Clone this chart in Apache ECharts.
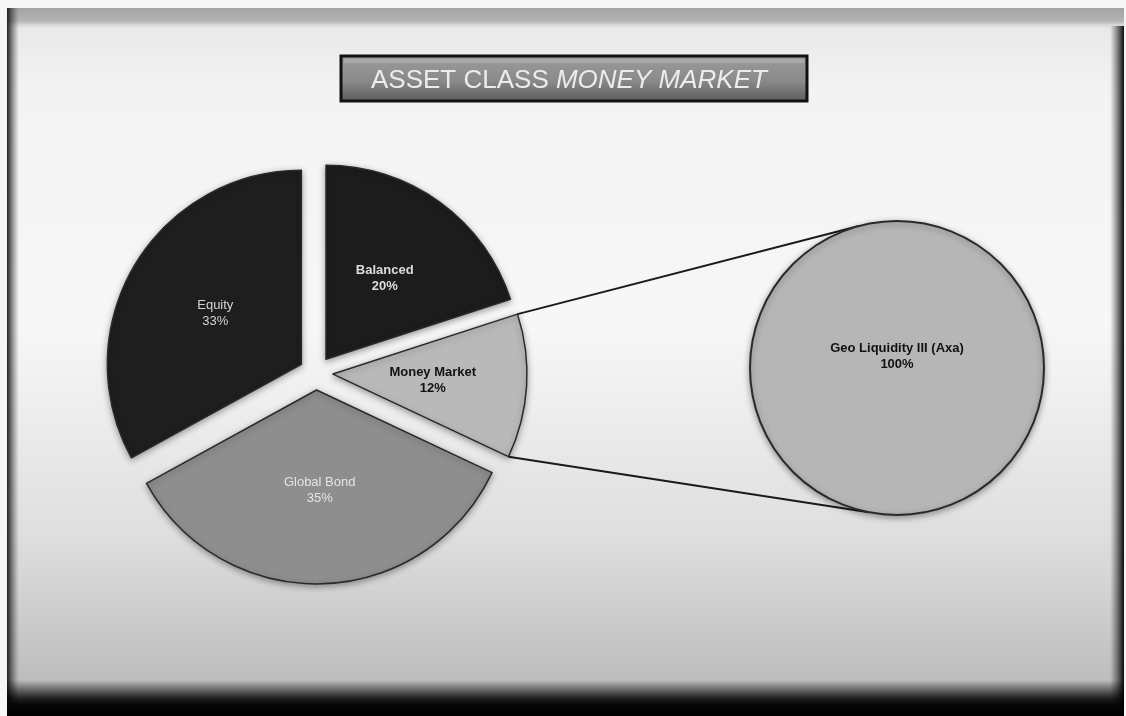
<!DOCTYPE html>
<html>
<head>
<meta charset="utf-8">
<script src="https://cdn.jsdelivr.net/npm/echarts@6/dist/echarts.min.js"></script>
<style>
html,body{margin:0;padding:0;background:#f6f6f6;}
#chart{width:1126px;height:716px;}
</style>
</head>
<body>
<div id="chart"></div>
<script>
// ---- data ----
const titleMain = 'ASSET CLASS ';
const titleItalic = 'MONEY MARKET';
const categories = ['Balanced', 'Money Market', 'Global Bond', 'Equity'];
const shares = [20, 12, 35, 33];
const sliceColors = ['#1c1c1c', '#b9b9b9', '#8e8e8e', '#1e1e1e'];
const labelColors = ['#dcdcdc', '#111111', '#e4e4e4', '#d4d4d4'];
const labelWeights = ['bold', 'bold', 'normal', 'normal'];
const detailCategories = ['Geo Liquidity III (Axa)'];
const detailShares = [100];
const explodedIndex = 1; // Money Market is broken out

// ---- layout ----
const mainCenter = [316, 373];
const mainRadius = 194;
const offset = 17;
const subCenter = [897, 368];
const subRadius = 147;

const chart = echarts.init(document.getElementById('chart'), null, {renderer: 'canvas'});

// geometry of the broken-out slice, derived from the data
const total = shares.reduce((a, b) => a + b, 0);
let before = 0;
for (let i = 0; i < explodedIndex; i++) before += shares[i];
const startA = 90 - 360 * before / total;
const endA = startA - 360 * shares[explodedIndex] / total;
const midA = (startA + endA) / 2;
const rad = d => d * Math.PI / 180;
const oc = [mainCenter[0] + offset * Math.cos(rad(midA)), mainCenter[1] - offset * Math.sin(rad(midA))];
const pTop = [oc[0] + mainRadius * Math.cos(rad(startA)), oc[1] - mainRadius * Math.sin(rad(startA))];
const pBot = [oc[0] + mainRadius * Math.cos(rad(endA)), oc[1] - mainRadius * Math.sin(rad(endA))];
const qTop = [subCenter[0] + subRadius * Math.cos(rad(105)), subCenter[1] - subRadius * Math.sin(rad(105))];
const qBot = [subCenter[0] + subRadius * Math.cos(rad(-101)), subCenter[1] - subRadius * Math.sin(rad(-101))];

const mainData = categories.map((c, i) => ({
  name: c,
  value: shares[i],
  selected: true,
  itemStyle: {color: sliceColors[i]},
  label: {color: labelColors[i], fontWeight: labelWeights[i]}
}));

const option = {
  animation: false,
  backgroundColor: 'transparent',
  title: {
    text: '{a|' + titleMain + '}{b|' + titleItalic + '}',
    left: 366,
    top: 63,
    textStyle: {
      rich: {
        a: {fontFamily: 'Liberation Sans, Arial', fontSize: 26, fontWeight: 'normal', color: '#ececec'},
        b: {fontFamily: 'Liberation Sans, Arial', fontSize: 26, fontWeight: 'normal', color: '#ececec', fontStyle: 'italic'}
      }
    }
  },
  graphic: [
    // frame background
    {type: 'rect', z: -10, shape: {x: 7, y: 8, width: 1117, height: 708},
      style: {fill: new echarts.graphic.LinearGradient(0, 0, 0, 1, [
        {offset: 0, color: '#e6e6e6'}, {offset: 0.12, color: '#f3f3f3'},
        {offset: 0.45, color: '#f7f7f7'}, {offset: 0.75, color: '#dedede'},
        {offset: 0.95, color: '#bdbdbd'}, {offset: 1, color: '#a0a0a0'}])}},
    // top band
    {type: 'rect', z: -9, shape: {x: 7, y: 8, width: 1117, height: 22},
      style: {fill: new echarts.graphic.LinearGradient(0, 0, 0, 1, [
        {offset: 0, color: '#a4a4a4'}, {offset: 0.6, color: '#b4b4b4'}, {offset: 1, color: 'rgba(230,230,230,0)'}])}},
    // left edge
    {type: 'rect', z: -8, shape: {x: 7, y: 8, width: 12, height: 708},
      style: {fill: new echarts.graphic.LinearGradient(0, 0, 1, 0, [
        {offset: 0, color: 'rgba(20,20,20,0.95)'}, {offset: 1, color: 'rgba(80,80,80,0)'}])}},
    // right edge
    {type: 'rect', z: -8, shape: {x: 1110, y: 26, width: 14, height: 690},
      style: {fill: new echarts.graphic.LinearGradient(0, 0, 1, 0, [
        {offset: 0, color: 'rgba(60,60,60,0)'}, {offset: 1, color: 'rgba(10,10,10,1)'}])}},
    // bottom band
    {type: 'rect', z: -7, shape: {x: 7, y: 680, width: 1117, height: 36},
      style: {fill: new echarts.graphic.LinearGradient(0, 0, 0, 1, [
        {offset: 0, color: 'rgba(0,0,0,0)'}, {offset: 0.5, color: 'rgba(0,0,0,0.8)'}, {offset: 0.7, color: '#050505'}, {offset: 1, color: '#000'}])}},
    // title box
    {type: 'rect', z: 5, shape: {x: 341, y: 56, width: 466, height: 45},
      style: {fill: new echarts.graphic.LinearGradient(0, 0, 0, 1, [
        {offset: 0, color: '#9c9c9c'}, {offset: 0.55, color: '#8a8a8a'}, {offset: 1, color: '#5a5a5a'}]),
        stroke: '#111', lineWidth: 3}},
    {type: 'rect', z: 6, shape: {x: 344, y: 59, width: 460, height: 4},
      style: {fill: 'rgba(255,255,255,0.18)'}},
    // connector lines
    {type: 'line', z: 1, shape: {x1: pTop[0], y1: pTop[1], x2: qTop[0], y2: qTop[1]},
      style: {stroke: '#1a1a1a', lineWidth: 2}},
    {type: 'line', z: 1, shape: {x1: pBot[0], y1: pBot[1], x2: qBot[0], y2: qBot[1]},
      style: {stroke: '#1a1a1a', lineWidth: 2}}
  ],
  series: [
    {
      type: 'pie',
      z: 3,
      center: mainCenter,
      radius: mainRadius,
      startAngle: 90,
      clockwise: true,
      selectedMode: 'multiple',
      selectedOffset: offset,
      emphasis: {disabled: true},
      silent: true,
      itemStyle: {borderColor: '#2a2a2a', borderWidth: 1.5, shadowBlur: 6, shadowColor: 'rgba(0,0,0,0.35)', shadowOffsetY: 2},
      label: {
        position: 'inside',
        formatter: '{b}\n{c}%',
        fontFamily: 'Liberation Sans, Arial',
        fontSize: 13,
        lineHeight: 16
      },
      labelLine: {show: false},
      data: mainData
    },
    {
      type: 'pie',
      z: 3,
      center: subCenter,
      radius: subRadius,
      startAngle: 90,
      emphasis: {disabled: true},
      silent: true,
      itemStyle: {color: '#b6b6b6', borderColor: '#2a2a2a', borderWidth: 2, shadowBlur: 6, shadowColor: 'rgba(0,0,0,0.35)', shadowOffsetY: 2},
      label: {
        position: 'center',
        formatter: '{b}\n{c}%',
        fontFamily: 'Liberation Sans, Arial',
        fontSize: 13,
        lineHeight: 16,
        fontWeight: 'bold',
        color: '#111',
        offset: [0, -12]
      },
      labelLine: {show: false},
      data: detailCategories.map((c, i) => ({name: c, value: detailShares[i]}))
    }
  ]
};
chart.setOption(option);
</script>
</body>
</html>
